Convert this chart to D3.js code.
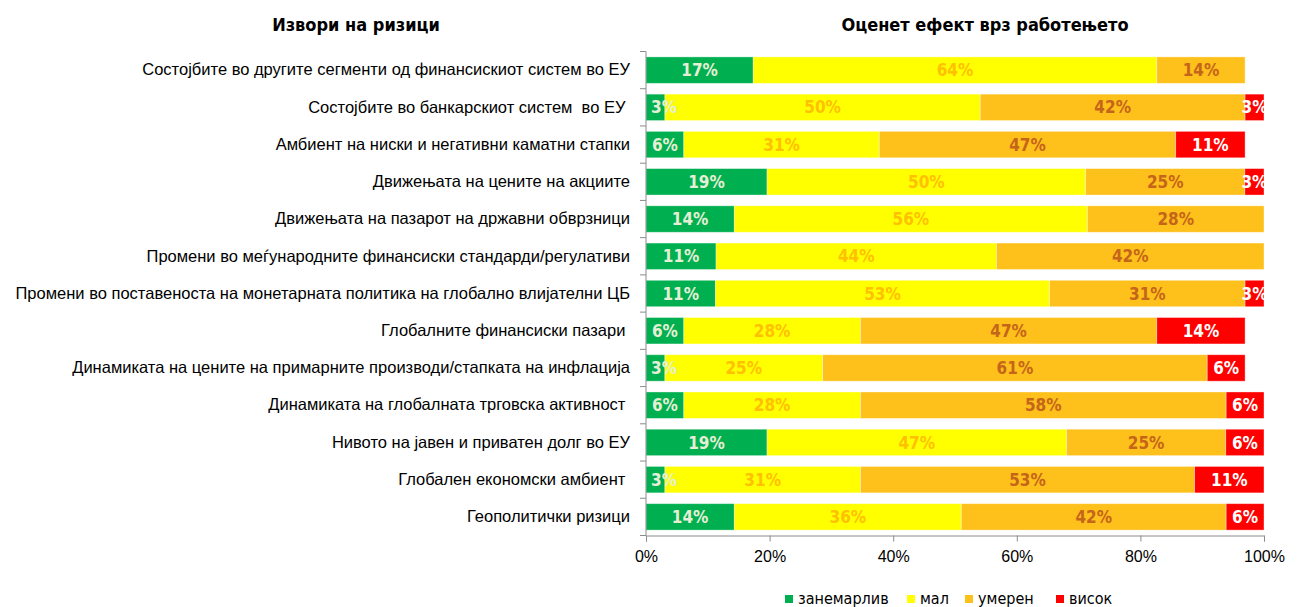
<!DOCTYPE html>
<html>
<head>
<meta charset="utf-8">
<script src="https://cdn.jsdelivr.net/npm/d3@7"></script>
<style>
    body { margin: 0; background: #fff; }
    svg { font-family: "DejaVu Sans Condensed", "DejaVu Sans", sans-serif; font-stretch: condensed; }
</style>
</head>
<body>
<div class="graphs"></div>
<script>
const categories = [
    "Состојбите во другите сегменти од финансискиот систем во ЕУ",
    "Состојбите во банкарскиот систем  во ЕУ ",
    "Амбиент на ниски и негативни каматни стапки",
    "Движењата на цените на акциите",
    "Движењата на пазарот на државни обврзници",
    "Промени во меѓународните финансиски стандарди/регулативи",
    "Промени во поставеноста на монетарната политика на глобално влијателни ЦБ",
    "Глобалните финансиски пазари ",
    "Динамиката на цените на примарните производи/стапката на инфлација",
    "Динамиката на глобалната трговска активност ",
    "Нивото на јавен и приватен долг во ЕУ",
    "Глобален економски амбиент ",
    "Геополитички ризици"
]

// answer shares in %, as printed on the bars
const zanemarliv = [17, 3, 6, 19, 14, 11, 11, 6, 3, 6, 19, 3, 14]
const mal        = [64, 50, 31, 50, 56, 44, 53, 28, 25, 28, 47, 31, 36]
const umeren     = [14, 42, 47, 25, 28, 42, 31, 47, 61, 58, 25, 53, 42]
const visok      = [0, 3, 11, 3, 0, 0, 3, 14, 6, 6, 6, 11, 6]
// share without answer (left blank at the end of the bar)
const bezOdgovor = [3, 0, 3, 0, 0, 0, 0, 3, 3, 0, 0, 0, 0]

const seriesNames = ["занемарлив", "мал", "умерен", "висок"]
const xTicks = [0, 0.2, 0.4, 0.6, 0.8, 1]

const colors = ["#00b050", "#ffff00", "#fec01b", "#ff0000"]
const labelColors = ["#e6efd6", "#ffc000", "#c5651a", "#ffffff"]

const keys = ["zanemarliv", "mal", "umeren", "visok", "blank"]
const data = categories.map(function (c, i) {
    const row = { name: c, zanemarliv: zanemarliv[i], mal: mal[i], umeren: umeren[i], visok: visok[i], blank: bezOdgovor[i] }
    row.total = keys.reduce(function (s, k) { return s + row[k] }, 0)
    return row
})

const width = 1306
const height = 607
const plot = { left: 646, right: 1264, top: 51.5, bottom: 535.5 }

const svg = d3.select(".graphs")
    .append("svg")
    .attr("width", width)
    .attr("height", height)

svg.append("defs").append("clipPath")
    .attr("id", "plotclip")
    .append("rect")
    .attr("x", plot.left)
    .attr("y", 0)
    .attr("width", plot.right - plot.left)
    .attr("height", height)

const x = d3.scaleLinear()
    .domain([0, 1])
    .range([plot.left, plot.right])

const y = d3.scaleBand()
    .domain(categories)
    .range([plot.top, plot.bottom])
    .paddingInner(0.29)
    .paddingOuter(0.145)

// normalised stack (100% stacked bar)
const stack = d3.stack()
    .keys(keys)
    .value(function (d, k) { return d[k] / d.total })
const stacked = stack(data)

const layers = svg.selectAll("g.layer")
    .data(stacked.slice(0, 4))
    .enter().append("g")
    .attr("class", "layer")
    .style("fill", function (d, i) { return colors[i] })

layers.selectAll("rect")
    .data(function (d) { return d })
    .enter().append("rect")
    .attr("x", function (d) { return x(d[0]) })
    .attr("y", function (d) { return y(d.data.name) })
    .attr("width", function (d) { return x(d[1]) - x(d[0]) })
    .attr("height", y.bandwidth())
    .style("stroke", "#ffffff")
    .style("stroke-opacity", 0.45)
    .style("stroke-width", 0.8)

// segment labels
const labelGroup = svg.append("g").attr("clip-path", "url(#plotclip)")
stacked.slice(0, 4).forEach(function (layer, i) {
    labelGroup.selectAll("text.l" + i)
        .data(layer.filter(function (d) { return d.data[keys[i]] > 0 }))
        .enter().append("text")
        .attr("class", "l" + i)
        .attr("x", function (d) { return (x(d[0]) + x(d[1])) / 2 })
        .attr("y", function (d) { return y(d.data.name) + y.bandwidth() / 2 })
        .attr("dy", ".36em")
        .attr("text-anchor", "middle")
        .style("font-size", "17px")
        .style("font-weight", "bold")
        .style("fill", labelColors[i])
        .text(function (d) { return d.data[keys[i]] + "%" })
})

// labels that would stick out on the left start at the axis instead
labelGroup.selectAll("text").each(function () {
    const box = this.getBBox()
    if (box.x < plot.left + 4) {
        d3.select(this).attr("x", +d3.select(this).attr("x") + (plot.left + 5 - box.x))
    }
})

// y axis with category names
const yAxis = d3.axisLeft(y)
    .tickSize(0)
    .tickPadding(16)

svg.append("g")
    .attr("class", "y axis")
    .attr("transform", `translate(${plot.left},0)`)
    .call(yAxis)
    .call(g => g.select(".domain").remove())
    .selectAll("text")
    .style("font-size", "16.5px")
    .style("fill", "#000")
    .style("white-space", "pre")

const boundaries = categories.map(function (c) { return y(c) - y.step() * y.paddingInner() / 2 })
boundaries.push(plot.bottom)
svg.selectAll("line.ytick")
    .data(boundaries)
    .enter().append("line")
    .attr("class", "ytick")
    .attr("x1", plot.left - 6)
    .attr("x2", plot.left)
    .attr("y1", function (d) { return d })
    .attr("y2", function (d) { return d })
    .style("stroke", "#8c8c8c")
    .style("stroke-width", 1)

svg.append("line")
    .attr("x1", plot.left)
    .attr("x2", plot.left)
    .attr("y1", plot.top)
    .attr("y2", plot.bottom)
    .style("stroke", "#8c8c8c")

// x axis
const xAxis = d3.axisBottom(x)
    .tickValues(xTicks)
    .tickFormat(d3.format(".0%"))
    .tickSize(6)
    .tickPadding(9)

svg.append("g")
    .attr("class", "x axis")
    .attr("transform", `translate(0,${plot.bottom})`)
    .call(xAxis)
    .call(g => g.select(".domain").style("stroke", "#8c8c8c"))
    .call(g => g.selectAll(".tick line").style("stroke", "#8c8c8c"))
    .selectAll("text")
    .style("font-size", "16px")
    .style("fill", "#000")

// titles
svg.append("text")
    .attr("x", 356)
    .attr("y", 31)
    .attr("text-anchor", "middle")
    .style("font-size", "18px")
    .style("font-weight", "bold")
    .text("Извори на ризици")

svg.append("text")
    .attr("x", 985)
    .attr("y", 31)
    .attr("text-anchor", "middle")
    .style("font-size", "18px")
    .style("font-weight", "bold")
    .text("Оценет ефект врз работењето")

// legend
const legendX = [785, 907, 965, 1056]
const legend = svg.selectAll("g.legend")
    .data(seriesNames)
    .enter().append("g")
    .attr("class", "legend")
    .attr("transform", function (d, i) { return `translate(${legendX[i]},595)` })

legend.append("rect")
    .attr("width", 8)
    .attr("height", 8)
    .style("fill", function (d, i) { return colors[i] })

legend.append("text")
    .attr("x", 13)
    .attr("y", 9)
    .style("font-size", "16px")
    .text(function (d) { return d })
</script>
</body>
</html>
